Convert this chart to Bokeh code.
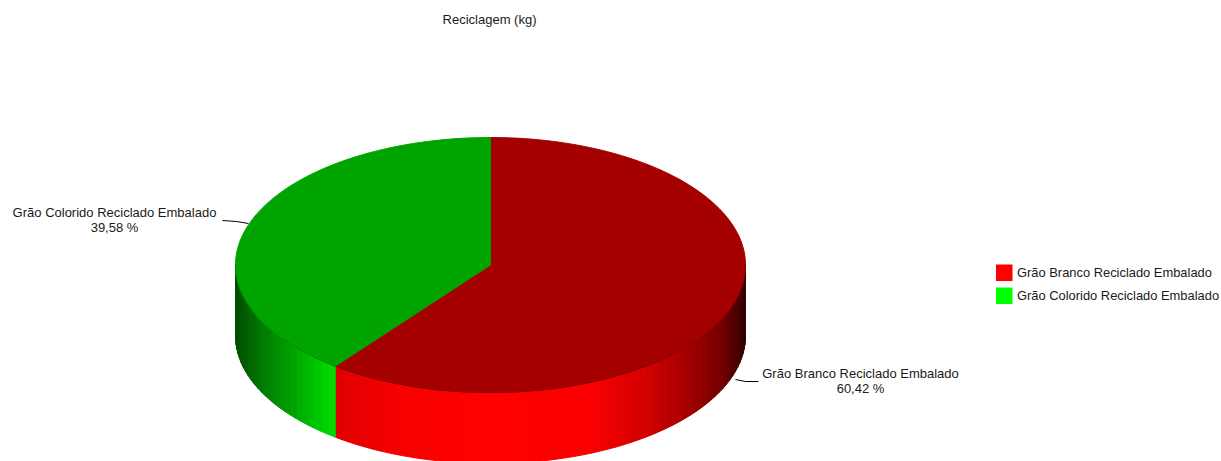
import numpy as np
from bokeh.embed import file_html
from bokeh.models import Range1d
from bokeh.plotting import figure
from bokeh.resources import INLINE
from bokeh.core.properties import value

title = "Reciclagem (kg)"
categories = ["Grão Branco Reciclado Embalado", "Grão Colorido Reciclado Embalado"]
shares = [60.42, 39.58]
share_labels = ["60,42 %", "39,58 %"]
top_colors = ["#a40000", "#00a400"]
rim_colors = ["#8a0000", "#008a00"]
legend_colors = ["#ff0000", "#00ff00"]
wall_channels = [(1, 0, 0), (0, 1, 0)]

# pie geometry in pixels
CX, CY, RX, RY, DEPTH = 490.0, 264.5, 255.0, 127.5, 71.0
FONT = value("Liberation Sans")


def ellipse(theta, dy=0.0):
    # theta is measured clockwise from 12 o'clock
    return CX + RX * np.sin(theta), CY - RY * np.cos(theta) + dy


def wall_level(x):
    # side lighting across the pie's width
    return np.interp(x, [236, 260, 290, 320, 336, 400, 480, 590, 640, 680, 720, 746],
                     [0.30, 0.47, 0.63, 0.80, 0.88, 0.97, 1.0, 0.98, 0.84, 0.68, 0.46, 0.18])


p = figure(width=1221, height=461, output_backend="svg", toolbar_location=None,
           x_range=Range1d(0, 1221), y_range=Range1d(461, 0),
           min_border=0, outline_line_color=None, background_fill_color="white")
p.axis.visible = False
p.grid.visible = False

fractions = np.array(shares) / sum(shares)
edges = np.concatenate([[0.0], np.cumsum(fractions)]) * 2 * np.pi

# side walls: only the front half of the cylinder can be seen
for i in range(len(shares)):
    start, stop = max(edges[i], np.pi / 2), min(edges[i + 1], 3 * np.pi / 2)
    steps = np.linspace(start, stop, max(2, int(np.degrees(stop - start) / 2.0)) + 1)
    xs, ys, colors = [], [], []
    for a, b in zip(steps[:-1], steps[1:]):
        xa, ya = ellipse(a)
        xb, yb = ellipse(b)
        xs.append([xa, xb, xb, xa])
        ys.append([ya, yb, yb + DEPTH, ya + DEPTH])
        level = wall_level((xa + xb) / 2)
        r, g, b_ = (int(round(255 * level * c)) for c in wall_channels[i])
        colors.append(f"#{r:02x}{g:02x}{b_:02x}")
    p.patches(xs, ys, fill_color=colors, line_color=colors, line_width=1)

# top face, with a slightly darker rim where it meets the wall
for i in range(len(shares)):
    theta = np.linspace(edges[i], edges[i + 1], 240)
    ex, ey = ellipse(theta)
    p.patch(np.r_[CX, ex], np.r_[CY, ey], fill_color=top_colors[i],
            line_color=top_colors[i], line_width=1)
    front = (theta >= np.pi / 2) & (theta <= 3 * np.pi / 2)
    p.line(ex[front], ey[front], line_color=rim_colors[i], line_width=1)

# leader lines
p.line([735, 745, 758], [379, 381, 381], line_color="#000000", line_width=1)
p.line([222, 236, 248], [220, 221, 223], line_color="#000000", line_width=1)


def label(x, y, text, align="center", size="13px"):
    p.text([x], [y], text=[text], text_font=FONT, text_font_size=size, text_color="#1a1a1a",
           text_align=align, text_baseline="middle")


label(489, 18.5, title)
label(860, 373, categories[0])
label(860, 388, share_labels[0])
label(114, 212, categories[1])
label(114, 227, share_labels[1])

# legend
for y, name, color in zip([264, 287], categories, legend_colors):
    p.quad(left=[995.5], right=[1012], top=[y], bottom=[y + 16.5], fill_color=color, line_color=None)
    label(1016.5, y + 7.5, name, align="left", size="12.9px")

open("out.html", "w").write(file_html(p, INLINE))
